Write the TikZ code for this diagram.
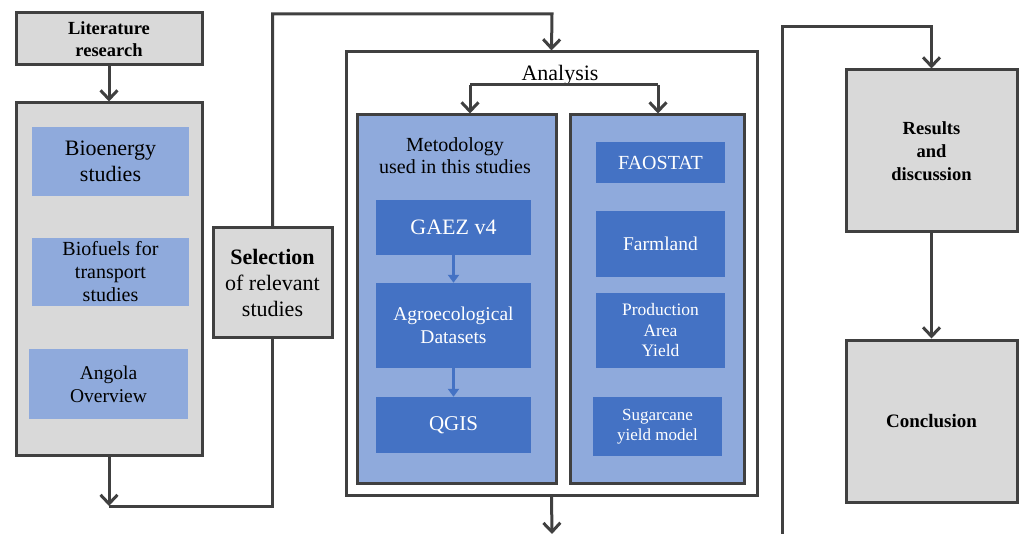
\documentclass[tikz,border=0pt]{standalone}
\usepackage{fontspec}
\setmainfont{Liberation Serif}
\usetikzlibrary{arrows.meta}
\definecolor{dk}{HTML}{404040}
\definecolor{gr}{HTML}{D9D9D9}
\definecolor{lb}{HTML}{8FAADC}
\definecolor{db}{HTML}{4472C4}
\newcommand{\fs}[2]{\fontsize{#1}{#2}\selectfont}
\tikzset{
  greybox/.style={draw=dk, fill=gr, line width=3pt, inner sep=0pt, align=center},
  lbox/.style={fill=lb, inner sep=0pt, align=center, text=black},
  panel/.style={draw=dk, fill=lb, line width=3pt, inner sep=0pt},
  dbox/.style={fill=db, inner sep=0pt, align=center, text=white},
  conn/.style={draw=dk, line width=3pt, -{Straight Barb[length=9pt,width=17pt]}},
  plain/.style={draw=dk, line width=3pt},
  barrow/.style={draw=db, line width=3.5pt, -{Triangle[length=8pt,width=11pt]}}
}
\begin{document}
\begin{tikzpicture}[x=1pt,y=-1pt]
\useasboundingbox (0,0) rectangle (1019,534);
% left column
\node[greybox, minimum width=186pt, minimum height=52pt, font=\bfseries\fs{18.5}{22}] (lit) at (109,39) {Literature\\research};
\node[greybox, minimum width=186pt, minimum height=352pt] (litbig) at (109,279) {};
\node[lbox, minimum width=157pt, minimum height=69pt, font=\fs{22}{26}] (bio) at (110.5,161.5) {Bioenergy\\studies};
\node[lbox, minimum width=157pt, minimum height=68pt, font=\fs{20}{23}] (biof) at (110.5,272) {Biofuels for\\transport\\studies};
\node[lbox, minimum width=159pt, minimum height=70pt, font=\fs{19.5}{23}] (ang) at (108.5,384) {Angola\\Overview};
\node[greybox, minimum width=119pt, minimum height=109pt, font=\fs{22}{26}] (sel) at (272.5,282.5) {\textbf{Selection}\\of relevant\\studies};
% analysis
\node[draw=dk, fill=white, line width=3pt, minimum width=411pt, minimum height=443pt, inner sep=0pt] (anal) at (551.5,273.5) {};
\node[font=\fs{22}{26}, inner sep=0pt] (antext) at (560,75) {Analysis};
\node[panel, minimum width=199pt, minimum height=368pt] (lp) at (456.5,299) {};
\node[panel, minimum width=174pt, minimum height=368pt] (rp) at (657,299) {};
\node[font=\fs{20}{22}, align=center, inner sep=0pt] (meth) at (455,156) {Metodology\\used in this studies};
\node[dbox, minimum width=155pt, minimum height=55pt, font=\fs{22}{26}] (gaez) at (453.5,227.5) {GAEZ v4};
\node[dbox, minimum width=155pt, minimum height=85pt, font=\fs{19.5}{23}] (agro) at (453.5,325.5) {Agroecological\\Datasets};
\node[dbox, minimum width=155pt, minimum height=56pt, font=\fs{21}{25}] (qgis) at (453.5,425) {QGIS};
\node[dbox, minimum width=129pt, minimum height=41pt, font=\fs{20}{24}] (fao) at (660.5,162.5) {FAOSTAT};
\node[dbox, minimum width=129pt, minimum height=66pt, font=\fs{19.5}{23}] (farm) at (660.5,244) {Farmland};
\node[dbox, minimum width=129pt, minimum height=75pt, font=\fs{17.5}{20.5}] (prod) at (660.5,330.5) {Production\\Area\\Yield};
\node[dbox, minimum width=129pt, minimum height=59pt, font=\fs{17}{20}] (sug) at (657.5,426.5) {Sugarcane\\yield model};
% right column
\node[greybox, minimum width=171pt, minimum height=162pt, font=\bfseries\fs{18.5}{23}] (res) at (931.5,151) {Results\\and\\discussion};
\node[greybox, minimum width=171pt, minimum height=162pt, font=\bfseries\fs{19}{23}] (conc) at (931.5,421) {Conclusion};
% coordinates
\coordinate (c1) at (109,506);
\coordinate (c2) at (272.5,506);
\coordinate (c3) at (272.5,14);
\coordinate (c4) at (552,14);
\coordinate (c5) at (470,85);
\coordinate (c6) at (658,85);
\coordinate (c7) at (552,534);
\coordinate (c8) at (782,536);
\coordinate (c9) at (782,27);
\coordinate (c10) at (931.5,27);
% connectors
\draw[conn] (lit.south) -- (litbig.north);
\draw[conn] (litbig.south) -- (c1);
\draw[plain] (c1) -- (c2) -- (sel.south);
\draw[conn] (sel.north) -- (c3) -- (c4) -- (anal.north);
\draw[plain] (c5) -- (c6);
\draw[conn] (c5) -- (c5 |- lp.north);
\draw[conn] (c6) -- (c6 |- rp.north);
\draw[conn] (anal.south) -- (c7);
\draw[conn] (c8) -- (c9) -- (c10) -- (res.north);
\draw[conn] (res.south) -- (conc.north);
\draw[barrow] (gaez.south) -- (agro.north);
\draw[barrow] (agro.south) -- (qgis.north);
\end{tikzpicture}
\end{document}
